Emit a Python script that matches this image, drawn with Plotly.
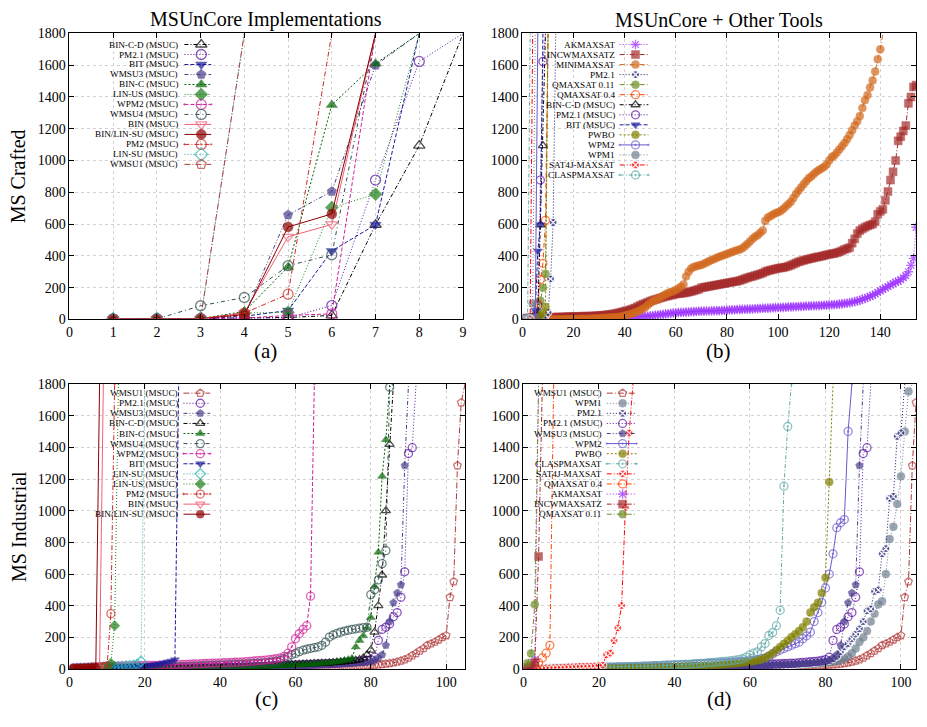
import plotly.graph_objects as go

FONT = "Liberation Serif"
W, H = 927, 727

# ---------------- (a) MS Crafted : MSUnCore implementations ----------------
a_bin_c_d = [2, 3, 5, 10, 12, 25, 596, 1094, 1800]
a_pm21 = [2, 3, 5, 8, 10, 87, 877, 1624, 1800]
a_bit = [2, 3, 5, 20, 56, 431, 596, 1800]
a_wmsu3 = [2, 3, 5, 25, 658, 805, 1600, 1800]
a_bin_c = [2, 3, 5, 50, 330, 1350, 1610, 1800]
a_lin_us = [2, 3, 5, 40, 45, 704, 788, 1800]
a_wpm2 = [2, 3, 5, 8, 25, 35, 1800]
a_wmsu4 = [2, 3, 86, 138, 338, 407, 1800]
a_bin = [2, 3, 5, 40, 520, 598, 1800]
a_bin_lin_su = [2, 3, 5, 30, 582, 664, 1800]
a_pm2 = [2, 3, 5, 40, 159, 1800]
a_lin_su = [2, 3, 5, 1800]
a_wmsu1 = [2, 3, 5, 1800]

# ---------------- (b) MS Crafted : MSUnCore + other tools ----------------
b_ak = [0.5, 0.6, 0.7, 0.8, 0.9, 1, 1, 1.1, 1.2, 1.3,
        1.4, 1.5, 1.6, 1.7, 1.8, 1.9, 2, 2.1, 2.2, 2.3,
        2.4, 2.5, 2.6, 2.8, 3, 3.2, 3.4, 3.6, 3.8, 4,
        4.5, 5, 5.5, 6, 7, 8, 9, 10, 11, 12,
        13, 14, 15, 16, 17, 18, 19, 20, 21, 22,
        24, 26, 28, 30, 32, 34, 36, 38, 40, 42,
        43, 44, 45, 46, 47, 48, 49, 50, 51, 52,
        52, 53, 53, 54, 54, 55, 55, 56, 57, 58,
        59, 60, 61, 62, 63, 63, 64, 65, 65, 66,
        67, 68, 69, 70, 70, 71, 72, 73, 74, 75,
        75, 76, 77, 78, 79, 80, 80, 81, 82, 83,
        84, 84, 85, 86, 86, 87, 88, 89, 90, 91,
        92, 93, 94, 96, 98, 100, 102, 105, 108, 112,
        116, 120, 126, 132, 138, 145, 152, 160, 170, 180,
        189, 198, 207, 217, 225, 235, 240, 250, 262, 275,
        300, 340, 384, 580]
b_incw = [8, 9, 9, 10, 10, 11, 11, 12, 12, 13,
          13, 14, 14, 15, 15, 16, 16, 17, 17, 18,
          18, 19, 19, 20, 20, 21, 21, 22, 23, 24,
          25, 27, 29, 31, 33, 36, 39, 43, 47, 52,
          55, 60, 66, 72, 80, 88, 95, 101, 108, 115,
          120, 125, 130, 135, 140, 145, 148, 152, 156, 160,
          162, 164, 166, 168, 172, 176, 180, 185, 190, 199,
          202, 205, 208, 211, 214, 217, 220, 223, 226, 229,
          232, 235, 238, 240, 245, 250, 256, 262, 267, 271,
          276, 281, 286, 292, 300, 306, 310, 314, 318, 322,
          324, 326, 330, 335, 341, 348, 355, 362, 367, 372,
          376, 380, 384, 388, 392, 394, 398, 402, 406, 410,
          413, 415, 420, 425, 432, 440, 446, 452, 480, 507,
          540, 559, 570, 580, 588, 594, 600, 615, 662, 680,
          693, 750, 805, 877, 929, 1000, 1124, 1150, 1186, 1220,
          1360, 1400, 1463, 1475]
b_mini = [0.1, 0.1, 0.2, 0.2, 0.3, 0.3, 0.4, 0.5, 0.6, 0.7,
          0.8, 0.9, 1.0, 1.2, 1.3, 1.5, 1.7, 1.9, 2.1, 2.4,
          2.7, 3.0, 3.4, 3.8, 4.2, 4.7, 5.3, 6.0, 6.8, 7.8,
          9, 10, 11, 12, 13, 14, 15, 17, 20, 24,
          28, 33, 38, 44, 50, 58, 66, 76, 90, 105,
          115, 122, 130, 138, 148, 158, 166, 172, 178, 185,
          195, 205, 220, 270, 300, 320, 330, 335, 340, 343,
          350, 358, 366, 374, 380, 388, 394, 400, 406, 412,
          418, 424, 430, 435, 440, 448, 460, 475, 490, 507,
          520, 530, 545, 559, 620, 641, 650, 660, 668, 675,
          682, 695, 710, 725, 740, 764, 790, 810, 830, 850,
          870, 888, 900, 915, 930, 940, 950, 960, 975, 1000,
          1020, 1031, 1050, 1070, 1090, 1110, 1134, 1160, 1190, 1220,
          1247, 1280, 1330, 1380, 1412, 1460, 1504, 1560, 1638, 1700,
          1800]
b_pm21 = [1, 2, 3, 4, 6, 8, 10, 15, 25, 45, 255, 610, 1800]
b_q011 = [1, 2, 3, 6, 20, 45, 117, 199, 288, 1800]
b_q04 = [1, 2, 4, 8, 25, 100, 251, 353, 624, 1800]
b_pwbo = [1, 2, 3, 5, 8, 12, 20, 40, 80, 1800]
b_wpm2 = [1, 2, 3, 5, 10, 1800]
b_wpm1 = [1, 2, 5, 100, 1800]
b_sat4j = [1, 2, 4, 1800]
b_clasp = [1, 3, 1800]

# ---------------- (c) MS Industrial : MSUnCore implementations ----------------
c_wmsu1 = [0.3, 0.4, 0.5, 0.6, 0.7, 0.8, 0.9, 1, 1.1, 1.2,
           1.3, 1.4, 1.5, 1.6, 1.7, 1.8, 1.9, 2, 2.1, 2.2,
           2.3, 2.4, 2.5, 2.6, 2.7, 2.8, 2.9, 3, 3.2, 3.4,
           3.6, 3.8, 4, 4.2, 4.4, 4.6, 4.8, 5, 5.2, 5.4,
           5.6, 5.8, 6, 6.3, 6.6, 6.9, 7.2, 7.5, 7.8, 8.1,
           8.4, 8.7, 9, 9.4, 9.8, 10, 10.5, 11, 11.5, 12,
           12.5, 13, 13.5, 14, 14.5, 15, 15.5, 16, 16.5, 17,
           17.5, 18, 18.5, 19, 19.5, 20, 21, 22, 23, 24,
           26, 28, 30, 33, 36, 40, 45, 52, 60, 70,
           85, 99, 115, 130, 150, 160, 171, 185, 200, 212,
           453, 552, 1285, 1683, 1800]
c_pm21 = [0.5, 0.6, 0.8, 1, 1.2, 1.4, 1.6, 1.8, 2, 2.2,
          2.4, 2.6, 2.8, 3, 3.2, 3.4, 3.6, 3.8, 4, 4.2,
          4.4, 4.6, 4.8, 5, 5.3, 5.6, 5.9, 6.2, 6.5, 6.8,
          7.1, 7.4, 7.7, 8, 8.4, 8.8, 9.2, 9.6, 10, 10.5,
          11, 11.5, 12, 12.5, 13, 13.5, 14, 14.5, 15, 16,
          17, 18, 19, 20, 21, 22, 23, 24, 25, 26,
          27, 28, 29, 30, 31, 32, 33, 34, 35, 36,
          37, 38, 40, 42, 44, 46, 48, 50, 55, 60,
          75, 181, 250, 264, 285, 330, 357, 453, 614, 1361,
          1398, 1800]
c_wmsu3 = [0.3, 0.4, 0.5, 0.6, 0.7, 0.8, 0.9, 1, 1.1, 1.2,
           1.3, 1.5, 1.7, 1.9, 2.1, 2.3, 2.5, 2.7, 2.9, 3.1,
           3.3, 3.5, 3.7, 3.9, 4.1, 4.3, 4.5, 4.8, 5.1, 5.4,
           5.7, 6, 6.3, 6.6, 6.9, 7.2, 7.5, 7.8, 8.1, 8.5,
           9, 9.5, 10, 10.5, 11, 11.5, 12, 12.5, 13, 13.5,
           14, 14.5, 15, 15.5, 16, 17, 18, 19, 20, 21,
           22, 23, 24, 25, 26, 27, 28, 29, 30, 31,
           32, 33, 34, 35, 36, 38, 40, 42, 44, 47,
           55, 70, 90, 150, 300, 419, 480, 532, 1285, 1800]
c_bin_c_d = [0.5, 0.7, 0.9, 1.1, 1.3, 1.5, 1.7, 1.9, 2.1, 2.3,
             2.5, 2.7, 2.9, 3.1, 3.3, 3.5, 3.7, 3.9, 4.1, 4.3,
             4.5, 4.8, 5.1, 5.4, 5.7, 6, 6.3, 6.6, 6.9, 7.2,
             7.5, 7.8, 8.1, 8.5, 9, 9.5, 10, 10.5, 11, 11.5,
             12, 12.5, 13, 13.5, 14, 15, 16, 17, 18, 19,
             20, 21, 22, 23, 24, 25, 26, 27, 28, 29,
             30, 31, 32, 33, 34, 35, 36, 37, 38, 40,
             42, 44, 46, 48, 50, 55, 60, 70, 90, 120,
             233, 400, 594, 1000, 1419, 1800]
c_bin_c = [0.4, 0.5, 0.6, 0.7, 0.8, 0.9, 1, 1.1, 1.2, 1.3,
           1.4, 1.5, 1.6, 1.7, 1.8, 1.9, 2, 2.2, 2.4, 2.6,
           2.8, 3, 3.2, 3.4, 3.6, 3.8, 4, 4.3, 4.6, 4.9,
           5.2, 5.5, 5.8, 6.1, 6.4, 6.7, 7, 7.5, 8, 8.5,
           9, 9.5, 10, 10.5, 11, 11.5, 12, 13, 14, 15,
           16, 17, 18, 19, 20, 21, 22, 23, 24, 25,
           26, 27, 28, 30, 32, 34, 36, 38, 40, 43,
           46, 50, 55, 60, 68, 140, 181, 210, 260, 326,
           522, 738, 1217, 1449, 1800]
c_wmsu4 = [1, 1.5, 2, 2.5, 3, 3.5, 4, 4.5, 5, 5.5,
           6, 6.5, 7, 7.5, 8, 8.5, 9, 9.5, 10, 10.5,
           11, 11.5, 12, 12.5, 13, 13.5, 14, 14.5, 15, 16,
           17, 18, 19, 20, 21, 22, 23, 24, 25, 26,
           27, 28, 29, 30, 31, 32, 33, 34, 35, 37,
           39, 41, 43, 46, 50, 55, 65, 79,
           90, 99, 110, 119, 125, 130, 135, 140, 150, 170, 202, 215,
           225, 233, 240, 245, 250, 254, 258, 262, 264, 470,
           501, 563, 666, 748, 1780, 1800]
c_wpm2 = [8, 9, 10, 11, 12, 13, 14, 15, 16, 17,
          17.5, 18, 18.5, 19, 19.5, 20, 20.5, 21, 21.5, 22,
          22.5, 23, 23.5, 24, 24.5, 25, 26, 27, 28, 29,
          30, 31, 32, 33, 34, 35, 36, 37, 38, 39,
          40, 41, 42, 43, 44, 45, 47, 49, 51, 53,
          55, 57, 59, 62, 65, 70, 80, 100,
          140, 192, 223, 250, 274, 460, 1800]
c_bit = [1, 2, 3, 4, 5, 6, 7, 8, 9, 10, 11, 12, 13, 14, 15, 16, 17, 18, 19, 20,
         22, 25, 28, 32, 38, 45, 50, 58, 1800]
c_lin_su = [1, 2, 3, 4, 5, 6, 7, 8, 9, 10, 11, 12, 14, 16, 18, 20, 24, 30, 48, 1800]
c_lin_us = [1, 2, 3, 4, 5, 6, 7, 8, 9, 10, 37, 274, 1800]
c_pm2 = [1, 2, 3, 4, 5, 6, 8, 10, 13, 20, 350, 1800]
c_bin = [3, 4, 5, 6, 7, 8, 9, 10, 1800]
c_bin_lin_su = [5, 6, 7, 8, 9, 10, 11, 1800]

# ---------------- (d) MS Industrial : MSUnCore + other tools ----------------
d_wpm1 = [0.5, 0.6, 0.7, 0.8, 0.9, 1, 1.1, 1.2, 1.3, 1.4,
          1.5, 1.6, 1.7, 1.8, 1.9, 2, 2.1, 2.2, 2.3, 2.4,
          2.5, 2.6, 2.7, 2.8, 2.9, 3, 3.2, 3.4, 3.6, 3.8,
          4, 4.2, 4.4, 4.6, 4.8, 5, 5.3, 5.6, 5.9, 6.2,
          6.5, 6.8, 7.1, 7.4, 7.7, 8, 8.4, 8.8, 9.2, 9.6,
          10, 10.5, 11, 11.5, 12, 12.5, 13, 13.5, 14, 15,
          16, 17, 18, 19, 20, 21, 22, 23, 24, 25,
          26, 27, 28, 29, 30, 32, 34, 36, 38, 40,
          43, 46, 50, 55, 65, 79, 100, 130, 171, 200,
          240, 300, 350, 408, 429, 600, 821, 899, 1043, 1217,
          1500, 1753, 1800]
d_pm21 = [0.4, 0.5, 0.6, 0.7, 0.8, 0.9, 1, 1.1, 1.2, 1.3,
          1.4, 1.5, 1.6, 1.7, 1.8, 1.9, 2, 2.1, 2.2, 2.3,
          2.4, 2.5, 2.6, 2.7, 2.8, 2.9, 3, 3.2, 3.4, 3.6,
          3.8, 4, 4.2, 4.4, 4.6, 4.8, 5, 5.3, 5.6, 5.9,
          6.2, 6.5, 6.8, 7.1, 7.4, 7.7, 8, 8.4, 8.8, 9.2,
          9.6, 10, 10.5, 11, 11.5, 12, 13, 14, 15, 16,
          17, 18, 19, 20, 21, 22, 23, 24, 25, 26,
          28, 30, 32, 34, 36, 38, 40, 44, 48, 50,
          55, 65, 80, 109, 140, 161, 190, 220, 254, 300,
          367, 380, 491, 500, 728, 760, 1078, 1090, 1470, 1491,
          1800]
d_wpm2 = [1, 1.5, 2, 2.5, 3, 3.5, 4, 4.5, 5, 5.5,
          6, 6.5, 7, 7.5, 8, 8.5, 9, 9.5, 10, 10.5,
          11, 11.5, 12, 12.5, 13, 13.5, 14, 14.5, 15, 16,
          17, 18, 19, 20, 21, 22, 23, 24, 25, 26,
          27, 28, 29, 30, 31, 32, 33, 34, 35, 36,
          37, 38, 39, 40, 42, 44, 46, 48, 50, 53,
          56, 60, 65, 70, 80, 95, 109, 120, 130, 140,
          150, 160, 170, 192, 210, 233, 300, 357, 420, 512,
          600, 728, 893, 924, 944, 1501, 1800]
d_pwbo = [0.5, 0.6, 0.7, 0.8, 0.9, 1, 1.2, 1.4, 1.6, 1.8,
          2, 2.2, 2.4, 2.6, 2.8, 3, 3.3, 3.6, 3.9, 4.2,
          4.5, 4.8, 5.1, 5.4, 5.7, 6, 6.4, 6.8, 7.2, 7.6,
          8, 8.5, 9, 9.5, 10, 10.5, 11, 11.5, 12, 13,
          14, 15, 16, 17, 18, 19, 20, 21, 22, 23,
          25, 27, 29, 31, 33, 35, 37, 40, 43, 46,
          50, 55, 60, 70, 85, 100, 120, 140, 160, 180,
          202, 220, 240, 264, 300, 357, 390, 419, 480, 577,
          1182, 1800]
d_clasp = [1, 1.5, 2, 2.5, 3, 3.5, 4, 4.5, 5, 5.5,
           6, 6.5, 7, 7.5, 8, 8.5, 9, 9.5, 10, 10.5,
           11, 11.5, 12, 12.5, 13, 13.5, 14, 14.5, 15, 16,
           17, 18, 19, 20, 21, 22, 23, 24, 25, 26,
           27, 28, 29, 30, 32, 34, 36, 38, 40, 42,
           44, 46, 48, 50, 53, 56, 60, 65, 75, 90,
           100, 109, 140, 161, 212, 230, 274, 371, 1155, 1532,
           1800]
d_sat4j = [2, 3, 4, 5, 6, 7, 8, 9, 10, 11,
           12, 13, 14, 15, 16, 17, 18, 19, 20, 22,
           25, 90, 100, 180, 260, 400, 1021, 1491, 1800]
d_q04 = [5, 10, 20, 40, 70, 100, 150, 1800]
d_ak = [3, 10, 60, 1800]
d_incw = [10, 20, 40, 711, 1800]
d_q011 = [37, 99, 408, 1800]

# ---------------- styles ----------------
STYLE = {
    "BIN-C-D (MSUC)": ("#000000", "4px,2px,1px,2px", "triangle-up-open"),
    "PM2.1 (MSUC)": ("#5a0fa0", "1px,2px", "circle-open"),
    "BIT (MSUC)": ("#1a1a9a", "4px,2px", "triangle-down"),
    "WMSU3 (MSUC)": ("#483d8b", "4px,2px,1px,2px,1px,2px", "pentagon"),
    "BIN-C (MSUC)": ("#006400", "2px,2px", "triangle-up"),
    "LIN-US (MSUC)": ("#1a801a", "1px,2px", "diamond"),
    "WPM2 (MSUC)": ("#d0209a", "4px,2px", "circle-open-dot"),
    "WMSU4 (MSUC)": ("#2f4f4f", "4px,3px,1px,3px", "circle-open"),
    "BIN (MSUC)": ("#f0607a", "solid", "triangle-down-open"),
    "BIN/LIN-SU (MSUC)": ("#8b0000", "solid", "circle"),
    "PM2 (MSUC)": ("#cc2929", "5px,2px,1px,2px", "circle-open-dot"),
    "LIN-SU (MSUC)": ("#2ab0b0", "1px,2px", "diamond-open"),
    "WMSU1 (MSUC)": ("#b03a3a", "6px,2px,1px,2px", "pentagon-open"),
    "AKMAXSAT": ("#9b30ff", "1px,2px", "asterisk-open"),
    "INCWMAXSATZ": ("#a52a2a", "5px,2px,1px,2px", "square"),
    "MINIMAXSAT": ("#d2691e", "5px,2px,1px,2px", "circle"),
    "PM2.1": ("#191970", "1px,2px", "circle-x"),
    "QMAXSAT 0.11": ("#6b8e23", "5px,2px,1px,2px", "circle"),
    "QMAXSAT 0.4": ("#ff4500", "5px,2px,1px,2px", "circle-open"),
    "PWBO": ("#808000", "2px,2px", "circle"),
    "WPM2": ("#6a5acd", "solid", "circle-open-dot"),
    "WPM1": ("#708090", "1px,2px", "circle"),
    "SAT4J-MAXSAT": ("#ff0000", "5px,2px,1px,2px", "circle-x"),
    "CLASPMAXSAT": ("#5fa8a8", "4px,2px,1px,2px", "circle-open-dot"),
}

PANELS = [
    dict(px=(66, 463, 27, 319), xr=(0, 9), dtick=1, ms=10,
         leg=dict(tx=177, lx0=182, lm=199, lx1=209, y0=38.3, dy=10.2),
         series=[("BIN-C-D (MSUC)", a_bin_c_d), ("PM2.1 (MSUC)", a_pm21), ("BIT (MSUC)", a_bit),
                 ("WMSU3 (MSUC)", a_wmsu3), ("BIN-C (MSUC)", a_bin_c), ("LIN-US (MSUC)", a_lin_us),
                 ("WPM2 (MSUC)", a_wpm2), ("WMSU4 (MSUC)", a_wmsu4), ("BIN (MSUC)", a_bin),
                 ("BIN/LIN-SU (MSUC)", a_bin_lin_su), ("PM2 (MSUC)", a_pm2), ("LIN-SU (MSUC)", a_lin_su),
                 ("WMSU1 (MSUC)", a_wmsu1)]),
    dict(px=(523, 920, 27, 319), xr=(0, 154), dtick=20, ms=8,
         leg=dict(tx=617, lx0=621, lm=637, lx1=650, y0=38.3, dy=10.25),
         series=[("AKMAXSAT", b_ak), ("INCWMAXSATZ", b_incw), ("MINIMAXSAT", b_mini),
                 ("PM2.1", b_pm21), ("QMAXSAT 0.11", b_q011), ("QMAXSAT 0.4", b_q04),
                 ("BIN-C-D (MSUC)", a_bin_c_d), ("PM2.1 (MSUC)", a_pm21), ("BIT (MSUC)", a_bit),
                 ("PWBO", b_pwbo), ("WPM2", b_wpm2), ("WPM1", b_wpm1),
                 ("SAT4J-MAXSAT", b_sat4j), ("CLASPMAXSAT", b_clasp)]),
    dict(px=(66, 465, 385, 676), xr=(0, 105), dtick=20, ms=8,
         leg=dict(tx=177, lx0=181, lm=198, lx1=208, y0=394.3, dy=10.3),
         series=[("WMSU1 (MSUC)", c_wmsu1), ("PM2.1 (MSUC)", c_pm21), ("WMSU3 (MSUC)", c_wmsu3),
                 ("BIN-C-D (MSUC)", c_bin_c_d), ("BIN-C (MSUC)", c_bin_c), ("WMSU4 (MSUC)", c_wmsu4),
                 ("WPM2 (MSUC)", c_wpm2), ("BIT (MSUC)", c_bit), ("LIN-SU (MSUC)", c_lin_su),
                 ("LIN-US (MSUC)", c_lin_us), ("PM2 (MSUC)", c_pm2), ("BIN (MSUC)", c_bin),
                 ("BIN/LIN-SU (MSUC)", c_bin_lin_su)]),
    dict(px=(524, 920, 385, 676), xr=(0, 104), dtick=20, ms=8,
         leg=dict(tx=604, lx0=608, lm=624, lx1=638, y0=394.3, dy=10.3),
         series=[("WMSU1 (MSUC)", c_wmsu1), ("WPM1", d_wpm1), ("PM2.1", d_pm21),
                 ("PM2.1 (MSUC)", c_pm21), ("WMSU3 (MSUC)", c_wmsu3), ("WPM2", d_wpm2),
                 ("PWBO", d_pwbo), ("CLASPMAXSAT", d_clasp), ("SAT4J-MAXSAT", d_sat4j),
                 ("QMAXSAT 0.4", d_q04), ("AKMAXSAT", d_ak), ("INCWMAXSATZ", d_incw),
                 ("QMAXSAT 0.11", d_q011)]),
]


def marker_def(color, sym, size):
    if "open" in sym:
        return dict(symbol=sym, size=size, color=color, line=dict(color=color, width=1.3))
    if sym == "circle-x":
        return dict(symbol=sym, size=size, color=color, line=dict(color="white", width=1.2))
    return dict(symbol=sym, size=size, color=color, line=dict(color=color, width=0.5))


AX = dict(showline=True, linecolor="black", linewidth=1, mirror="ticks", ticks="inside",
          ticklen=5, tickcolor="black", showgrid=True, gridcolor="#d2d2d2", griddash="dot",
          gridwidth=1, zeroline=False, tickfont=dict(family=FONT, size=14, color="black"))

fig = go.Figure()
layout_axes = {}
annotations = []

for i, P in enumerate(PANELS):
    sfx = "" if i == 0 else str(i + 1)
    xa, ya = "x" + sfx, "y" + sfx
    x0p, x1p, y0p, y1p = P["px"]
    xr0, xr1 = P["xr"]
    layout_axes["xaxis" + sfx] = dict(domain=[x0p / W, x1p / W], anchor=ya, range=[xr0, xr1],
                                      dtick=P["dtick"], tick0=0, **AX)
    layout_axes["yaxis" + sfx] = dict(domain=[1 - y1p / H, 1 - y0p / H], anchor=xa, range=[0, 1800],
                                      dtick=200, tick0=0, **AX)

    def to_data(xpx, ypx):
        fx = (xpx - x0p) / (x1p - x0p)
        fy = (y1p - ypx) / (y1p - y0p)
        return xr0 + fx * (xr1 - xr0), fy * 1800

    ms = P["ms"]
    for name, ys in P["series"]:
        color, dash, sym = STYLE[name]
        sizes = [ms if v < 1800 else 0 for v in ys]
        fig.add_trace(go.Scatter(
            x=list(range(1, len(ys) + 1)), y=ys, mode="lines+markers",
            xaxis=xa, yaxis=ya, name=name, showlegend=False, hoverinfo="skip",
            line=dict(color=color, width=1, dash=dash),
            marker=marker_def(color, sym, sizes)))

    lg = P["leg"]
    for k, (name, ys) in enumerate(P["series"]):
        color, dash, sym = STYLE[name]
        ypx = lg["y0"] + k * lg["dy"]
        xt, yv = to_data(lg["tx"], ypx)
        xl0, _ = to_data(lg["lx0"], ypx)
        xlm, _ = to_data(lg["lm"], ypx)
        xl1, _ = to_data(lg["lx1"], ypx)
        fig.add_trace(go.Scatter(
            x=[xl0, xlm, xl1], y=[yv, yv, yv], mode="lines+markers",
            xaxis=xa, yaxis=ya, showlegend=False, hoverinfo="skip",
            line=dict(color=color, width=1, dash=dash),
            marker=marker_def(color, sym, [0, ms, 0])))
        annotations.append(dict(x=xt, y=yv, xref=xa, yref=ya, text=name, showarrow=False,
                                xanchor="right", yanchor="middle", borderpad=0,
                                font=dict(family=FONT, size=9.2, color="black")))


def paper_text(text, xpx, ypx, size, angle=0):
    return dict(x=xpx / W, y=1 - ypx / H, xref="paper", yref="paper", text=text,
                showarrow=False, xanchor="center", yanchor="middle", textangle=angle,
                font=dict(family=FONT, size=size, color="black"))


annotations += [
    paper_text("MSUnCore Implementations", 264, 13, 20),
    paper_text("MSUnCore + Other Tools", 721, 13, 20),
    paper_text("MS Crafted", 15, 173, 20, -90),
    paper_text("MS Industrial", 15, 530, 20, -90),
    paper_text("(a)", 264, 351, 21),
    paper_text("(b)", 721, 351, 21),
    paper_text("(c)", 265, 707, 21),
    paper_text("(d)", 722, 707, 21),
]

fig.update_layout(width=W, height=H, margin=dict(l=0, r=0, t=0, b=0),
                  paper_bgcolor="white", plot_bgcolor="white", showlegend=False,
                  annotations=annotations, **layout_axes)

fig.write_html("out.html")
